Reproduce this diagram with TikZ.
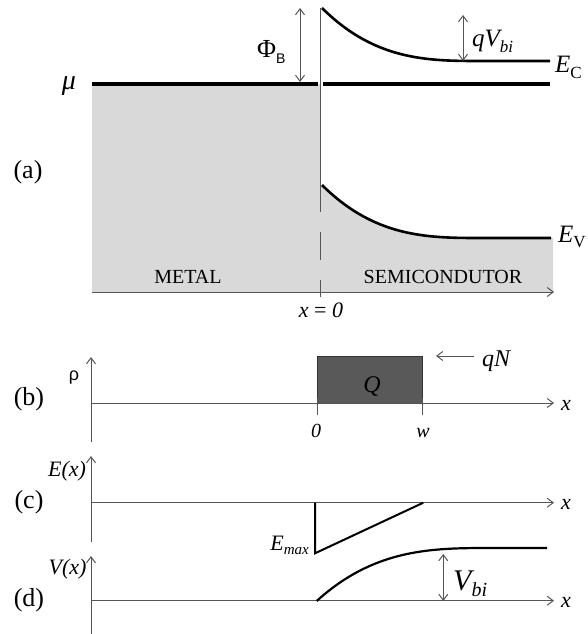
\documentclass[tikz,border=0pt]{standalone}
\usepackage{fontspec}
\setmainfont{Liberation Serif}
\newfontfamily\sansf{Liberation Sans}
\usetikzlibrary{arrows.meta}
\definecolor{lightfill}{RGB}{217,217,217}
\definecolor{boxfill}{RGB}{89,89,89}
\definecolor{axiscol}{RGB}{85,85,85}
\newcommand{\fsz}[1]{\fontsize{#1}{#1}\selectfont}
\newcommand{\lowsub}[2]{\raisebox{-0.22em}{\fsz{#1}#2}}
\begin{document}
\begin{tikzpicture}[x=1pt,y=-1pt,
  barb/.tip={Straight Barb[length=6pt,width=9pt]},
  ax/.style={draw=axiscol,line width=1pt,-barb},
  dbl/.style={draw=axiscol,line width=1pt,barb-barb},
  band/.style={line width=2.6pt,black},
  plain/.style={draw=axiscol,line width=1pt},
  lab/.style={inner sep=0pt,font=\fsz{26}},
  txt/.style={inner sep=0pt,font=\fsz{20}},
  itl/.style={inner sep=0pt,font=\fsz{22}\itshape}]
\useasboundingbox (0,0) rectangle (587,634);

% ---------- panel (a) ----------
\fill[lightfill] (92,84) rectangle (320,292);
\fill[lightfill] (320,185) -- plot[domain=0:160,samples=60] ({322+\x},{238-53*(1-\x/160)*(1-\x/160)*(1-\x/160)}) -- (553,238) -- (553,292) -- (320,292) -- cycle;

\coordinate (a0) at (92,292);
\coordinate (a1) at (554,292);
\draw[ax] (a0) -- (a1);

\coordinate (v0) at (320,8);
\coordinate (v1) at (320,212);
\coordinate (v2) at (320,232);
\coordinate (v3) at (320,260);
\coordinate (v4) at (320,280);
\coordinate (v5) at (320,297);
\draw[plain] (v0) -- (v1);
\draw[plain] (v2) -- (v3);
\draw[plain] (v4) -- (v5);

\coordinate (m0) at (92,84);
\coordinate (m1) at (318,84);
\coordinate (m2) at (323,84);
\coordinate (m3) at (550,84);
\draw[line width=4pt] (m0) -- (m1);
\draw[line width=4pt] (m2) -- (m3);

\draw[band] plot[domain=0:160,samples=60] ({322+\x},{61-53*(1-\x/160)*(1-\x/160)*(1-\x/160)}) -- (550,61);
\draw[band] plot[domain=0:160,samples=60] ({322+\x},{238-53*(1-\x/160)*(1-\x/160)*(1-\x/160)}) -- (551,238);

\coordinate (phT) at (300,8);
\coordinate (phB) at (300,82);
\draw[dbl] (phT) -- (phB);
\coordinate (qvT) at (463,15);
\coordinate (qvB) at (463,61);
\draw[dbl] (qvT) -- (qvB);

\node[lab,anchor=base west] (phi) at (257,58) {Φ\lowsub{14}{\sansf B}};
\node[inner sep=0pt,anchor=base west,font=\fsz{25}] (qvbi) at (472,47) {\itshape qV\lowsub{17}{bi}};
\node[inner sep=0pt,anchor=base west,font=\fsz{25}] (ec) at (555,73) {\itshape E\upshape\lowsub{17}{C}};
\node[inner sep=0pt,anchor=base west,font=\fsz{25}] (ev) at (558,242) {\itshape E\upshape\lowsub{17}{V}};
\node[lab,font=\fsz{28}\itshape] (mu) at (69,86) {μ};
\node[lab] (la) at (28,172) {(a)};
\node[txt,anchor=base] (metal) at (188,283) {METAL};
\node[txt,anchor=base] (semi) at (443,283) {SEMICONDUTOR};
\node[inner sep=0pt,anchor=base,font=\fsz{22}] (x0) at (321,317) {\itshape x\upshape{} = \itshape 0};

% ---------- panel (b) ----------
\fill[boxfill,draw=black!80,line width=0.6pt] (317.7,356) rectangle (422.7,403);
\coordinate (b0) at (91,442);
\coordinate (b1) at (91,357);
\draw[ax] (b0) -- (b1);
\coordinate (b2) at (91,403);
\coordinate (b3) at (554,403);
\draw[ax] (b2) -- (b3);
\coordinate (t0a) at (317.7,398);
\coordinate (t0b) at (317.7,415);
\coordinate (twa) at (422.7,398);
\coordinate (twb) at (422.7,415);
\draw[plain] (t0a) -- (t0b);
\draw[plain] (twa) -- (twb);
\coordinate (qn0) at (474,356);
\coordinate (qn1) at (436,356);
\draw[ax] (qn0) -- (qn1);

\node[inner sep=0pt,font=\fsz{18}\sansf] (rho) at (74,378) {ρ};
\node[lab] (lb) at (29,399) {(b)};
\node[inner sep=0pt,anchor=base,font=\fsz{24}\itshape] (Q) at (372,392) {Q};
\node[inner sep=0pt,anchor=base west,font=\fsz{24}\itshape] (qN) at (482,366) {qN};
\node[inner sep=0pt,anchor=base,font=\fsz{20}\itshape] (zero) at (316,437) {0};
\node[inner sep=0pt,anchor=base,font=\fsz{20}\itshape] (w) at (423,437) {w};
\node[itl,anchor=base west] (xb) at (561,410) {x};

% ---------- panel (c) ----------
\coordinate (c0) at (91,542);
\coordinate (c1) at (91,456);
\draw[ax] (c0) -- (c1);
\coordinate (c2) at (91,502.7);
\coordinate (c3) at (554,502.7);
\draw[ax] (c2) -- (c3);
\coordinate (e0) at (315,502.7);
\coordinate (e1) at (315,553.3);
\coordinate (e2) at (423.3,502.7);
\draw[line width=2pt,line join=miter] (e0) -- (e1) -- (e2);

\node[itl] (Ex) at (67,471) {E(x)};
\node[lab] (lc) at (29,502) {(c)};
\node[inner sep=0pt,anchor=base east,font=\fsz{22}\itshape] (Emax) at (309,550) {E\lowsub{15}{max}};
\node[itl,anchor=base west] (xc) at (561,509) {x};

% ---------- panel (d) ----------
\coordinate (d0) at (91,634);
\coordinate (d1) at (91,556);
\draw[ax] (d0) -- (d1);
\coordinate (d2) at (91,600.7);
\coordinate (d3) at (554,600.7);
\draw[ax] (d2) -- (d3);
\draw[line width=2.2pt] plot[domain=0:175,samples=60] ({316.7+\x},{601-53*(1-(1-\x/175)*(1-\x/175)*(1-\x/175))}) -- (547,548);
\coordinate (vbT) at (443.3,554);
\coordinate (vbB) at (443.3,601);
\draw[dbl] (vbT) -- (vbB);

\node[itl] (Vx) at (67.5,569) {V(x)};
\node[lab] (ld) at (29,600) {(d)};
\node[inner sep=0pt,anchor=base west,font=\fsz{30}\itshape] (Vbi) at (453,590) {V\lowsub{20}{bi}};
\node[itl,anchor=base west] (xd) at (561,607) {x};
\end{tikzpicture}
\end{document}
